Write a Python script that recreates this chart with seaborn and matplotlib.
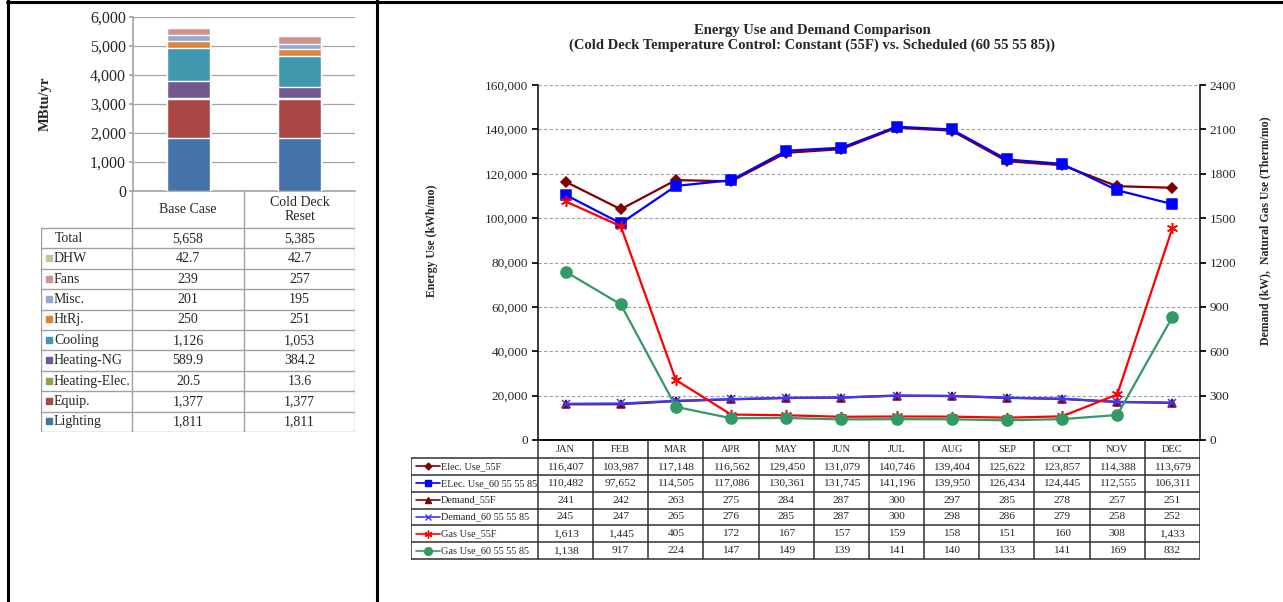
import numpy as np
import pandas as pd
import matplotlib
matplotlib.use("Agg")
import matplotlib.pyplot as plt
from matplotlib.lines import Line2D
from matplotlib.patches import Rectangle
import seaborn as sns

# ---------------- annual end-use breakdown (MBtu/yr) ----------------
cases = ["Base Case", "Cold Deck\nReset"]
end_uses = ["Lighting", "Equip.", "Heating-Elec.", "Heating-NG", "Cooling",
            "HtRj.", "Misc.", "Fans", "DHW"]
base_case = [1811, 1377, 20.5, 589.9, 1126, 250, 201, 239, 42.7]
cold_deck_reset = [1811, 1377, 13.6, 384.2, 1053, 251, 195, 257, 42.7]
case_totals = [5658, 5385]
end_use_colors = ["#4572A7", "#AA4643", "#89A54E", "#71588F", "#4198AF",
                  "#DB843D", "#93A9CF", "#D19392", "#B9CD96"]

# ---------------- monthly comparison ----------------
months = ["JAN", "FEB", "MAR", "APR", "MAY", "JUN", "JUL", "AUG", "SEP", "OCT", "NOV", "DEC"]
elec_55f = [116407, 103987, 117148, 116562, 129450, 131079, 140746, 139404, 125622, 123857, 114388, 113679]
elec_sched = [110482, 97652, 114505, 117086, 130361, 131745, 141196, 139950, 126434, 124445, 112555, 106311]
demand_55f = [241, 242, 263, 275, 284, 287, 300, 297, 285, 278, 257, 251]
demand_sched = [245, 247, 265, 276, 285, 287, 300, 298, 286, 279, 258, 252]
gas_55f = [1613, 1445, 405, 172, 167, 157, 159, 158, 151, 160, 308, 1433]
gas_sched = [1138, 917, 224, 147, 149, 139, 141, 140, 133, 141, 169, 832]

series_names = ["Elec. Use_55F", "ELec. Use_60 55 55 85", "Demand_55F",
                "Demand_60 55 55 85", "Gas Use_55F", "Gas Use_60 55 55 85"]
series_values = [elec_55f, elec_sched, demand_55f, demand_sched, gas_55f, gas_sched]
series_on_right = [False, False, True, True, True, True]
series_colors = ["#800000", "#0000FF", "#800000", "#3A3AFF", "#FF0000", "#339966"]
series_markers = ["D", "s", "^", "x", (6, 2, 0), "o"]
series_msize = [5, 7, 6, 6, 8, 8]

sns.set_theme(style="white")
plt.rcParams["font.family"] = ["Liberation Serif", "DejaVu Serif"]

W, H = 1283, 602
fig = plt.figure(figsize=(W / 100, H / 100), dpi=100)


def fx(x):
    return x / W


def fy(y):
    return 1 - y / H


def fmt_val(v):
    if float(v) != int(v):
        return f"{v:,.1f}"
    return f"{int(v):,}"


# ---------------- page frame ----------------
for xs, ys in [((7, 1283), (2, 2)), ((8, 8), (0, 602)), ((377, 377), (0, 602))]:
    fig.add_artist(Line2D([fx(xs[0]), fx(xs[1])], [fy(ys[0]), fy(ys[1])],
                          transform=fig.transFigure, color="black", lw=2.2))

# ---------------- stacked bar chart ----------------
axb = fig.add_axes([fx(133), fy(191), fx(355) - fx(133), fy(17) - fy(191)])
bars = pd.DataFrame({"case": cases * len(end_uses),
                     "use": np.repeat(end_uses, len(cases)),
                     "value": np.ravel(np.column_stack([base_case, cold_deck_reset]))})
cum = bars.pivot(index="use", columns="case", values="value").loc[end_uses, cases].cumsum()
# draw cumulative heights from the top layer down so each segment shows its own band
for use, color in reversed(list(zip(end_uses, end_use_colors))):
    sns.barplot(x=cases, y=cum.loc[use].values, color=color, saturation=1,
                width=0.39, ax=axb, zorder=3)
axb.set_xlim(-0.5, 1.5)
axb.set_ylim(0, 6000)
axb.set_yticks(np.arange(0, 6001, 1000))
axb.set_yticklabels([f"{int(t):,}" for t in np.arange(0, 6001, 1000)], fontsize=11.5)
axb.set_xticks([])
axb.set_xlabel("")
axb.yaxis.grid(True, color="#A6A6A6", lw=0.9)
axb.set_axisbelow(True)
for s in ["top", "right"]:
    axb.spines[s].set_visible(False)
axb.spines["left"].set_color("#A6A6A6")
axb.spines["bottom"].set_color("#A6A6A6")
axb.tick_params(axis="y", length=3, color="#A6A6A6", pad=2, left=True)
fig.text(fx(45), fy(104), "MBtu/yr", rotation=90, ha="center", va="center",
         fontsize=10.5, fontweight="bold")

# data table under the bars (pixel-unit axes)
axt = fig.add_axes([fx(41), fy(432), fx(355) - fx(41), fy(191) - fy(432)])
axt.set_xlim(41, 355)
axt.set_ylim(432, 191)
axt.axis("off")
grey = "#A0A0A0"
col_edges = [41, 132, 244, 355]
row_top = 228
row_h = (432 - 228) / 10
for x in col_edges[1:]:
    axt.plot([x, x], [191, 432], color=grey, lw=1, solid_capstyle="butt")
axt.plot([41, 41], [row_top, 432], color=grey, lw=1)
for i in range(11):
    y = row_top + i * row_h
    axt.plot([41, 355], [y, y], color=grey, lw=1)
col_centers = [(col_edges[1] + col_edges[2]) / 2, (col_edges[2] + col_edges[3]) / 2]
for cx, name in zip(col_centers, cases):
    axt.text(cx, (191 + row_top) / 2, name, ha="center", va="center", fontsize=10,
             linespacing=1.1)
table_rows = [("Total", None, case_totals)]
for use, color, b, c in reversed(list(zip(end_uses, end_use_colors, base_case, cold_deck_reset))):
    table_rows.append((use, color, [b, c]))
for i, (name, color, vals) in enumerate(table_rows):
    yc = row_top + (i + 0.5) * row_h
    if color is None:
        axt.text(55, yc, name, ha="left", va="center", fontsize=10)
    else:
        axt.add_patch(Rectangle((46, yc - 3.5), 6, 6, color=color))
        axt.text(54, yc, name, ha="left", va="center", fontsize=10)
    for cx, v in zip(col_centers, vals):
        axt.text(cx, yc, fmt_val(v), ha="center", va="center", fontsize=10)

# ---------------- monthly line chart ----------------
ax = fig.add_axes([fx(538), fy(440), fx(1200) - fx(538), fy(85) - fy(440)])
ax2 = ax.twinx()
xpos = np.arange(len(months))
for name, vals, right, color, mk, ms in zip(series_names, series_values, series_on_right,
                                             series_colors, series_markers, series_msize):
    target = ax2 if right else ax
    sns.lineplot(x=xpos, y=vals, ax=target, color=color, marker=mk, markersize=ms,
                 markeredgecolor=color, markeredgewidth=1.1, linewidth=1.6, zorder=3)
for a in (ax, ax2):
    a.set_xlim(-0.5, 11.5)
    a.set_xticks([])
    a.set_xlabel("")
    a.set_ylabel("")
ax.set_ylim(0, 160000)
ax.set_yticks(np.arange(0, 160001, 20000))
ax.set_yticklabels([f"{int(t):,}" for t in np.arange(0, 160001, 20000)], fontsize=9.5)
ax2.set_ylim(0, 2400)
ax2.set_yticks(np.arange(0, 2401, 300))
ax2.set_yticklabels([str(int(t)) for t in np.arange(0, 2401, 300)], fontsize=9.5)
ax.yaxis.grid(True, color="#A0A0A0", lw=0.8, ls=(0, (3, 2)))
ax.set_axisbelow(True)
for a in (ax, ax2):
    a.spines["top"].set_visible(False)
    for s in ["left", "right", "bottom"]:
        a.spines[s].set_color("black")
        a.spines[s].set_linewidth(1.1)
ax.spines["right"].set_visible(False)
ax2.spines["left"].set_visible(False)
ax.tick_params(axis="y", direction="out", length=4, color="black", pad=3, left=True)
ax2.tick_params(axis="y", direction="out", length=4, color="black", pad=3, right=True)
ax.patch.set_alpha(0)

fig.text(fx(812), fy(24), "Energy Use and Demand Comparison\n"
         "(Cold Deck Temperature Control: Constant (55F) vs. Scheduled (60 55 55 85))",
         ha="center", va="top", fontsize=10.5, fontweight="bold", linespacing=1.1)
fig.text(fx(432), fy(241), "Energy Use (kWh/mo)", rotation=90, ha="center", va="center",
         fontsize=8.5, fontweight="bold")
fig.text(fx(1265), fy(231), "Demand (kW),  Natural Gas Use (Therm/mo)", rotation=90,
         ha="center", va="center", fontsize=8.5, fontweight="bold")

# monthly data table with legend keys
axm = fig.add_axes([fx(411), fy(560), fx(1200) - fx(411), fy(440) - fy(560)])
axm.set_xlim(411, 1200)
axm.set_ylim(560, 440)
axm.axis("off")
cw = (1200 - 538) / len(months)
head_bot = 458
rh = (559 - head_bot) / len(series_names)
for i in range(len(months) + 1):
    x = 538 + i * cw
    axm.plot([x, x], [440, 559], color="#303030", lw=1.1, solid_capstyle="butt")
axm.plot([411, 411], [head_bot, 559], color="#303030", lw=1.1)
for j in range(len(series_names) + 1):
    y = head_bot + j * rh
    axm.plot([411, 1200], [y, y], color="#303030", lw=1.1)
for i, m in enumerate(months):
    axm.text(538 + (i + 0.5) * cw, (440 + head_bot) / 2, m, ha="center", va="center",
             fontsize=7.5)
for j, (name, vals, color, mk, ms) in enumerate(zip(series_names, series_values, series_colors,
                                                     series_markers, series_msize)):
    yc = head_bot + (j + 0.5) * rh
    axm.plot([416, 440], [yc, yc], color=color, lw=1.2)
    axm.plot([428], [yc], color=color, marker=mk, markersize=ms * 0.7,
             markeredgecolor=color, markeredgewidth=1)
    axm.text(441, yc, name, ha="left", va="center", fontsize=7.4)
    for i, v in enumerate(vals):
        axm.text(538 + (i + 0.5) * cw, yc, f"{v:,}", ha="center", va="center", fontsize=8.2)

fig.savefig("out.png", dpi=100)
